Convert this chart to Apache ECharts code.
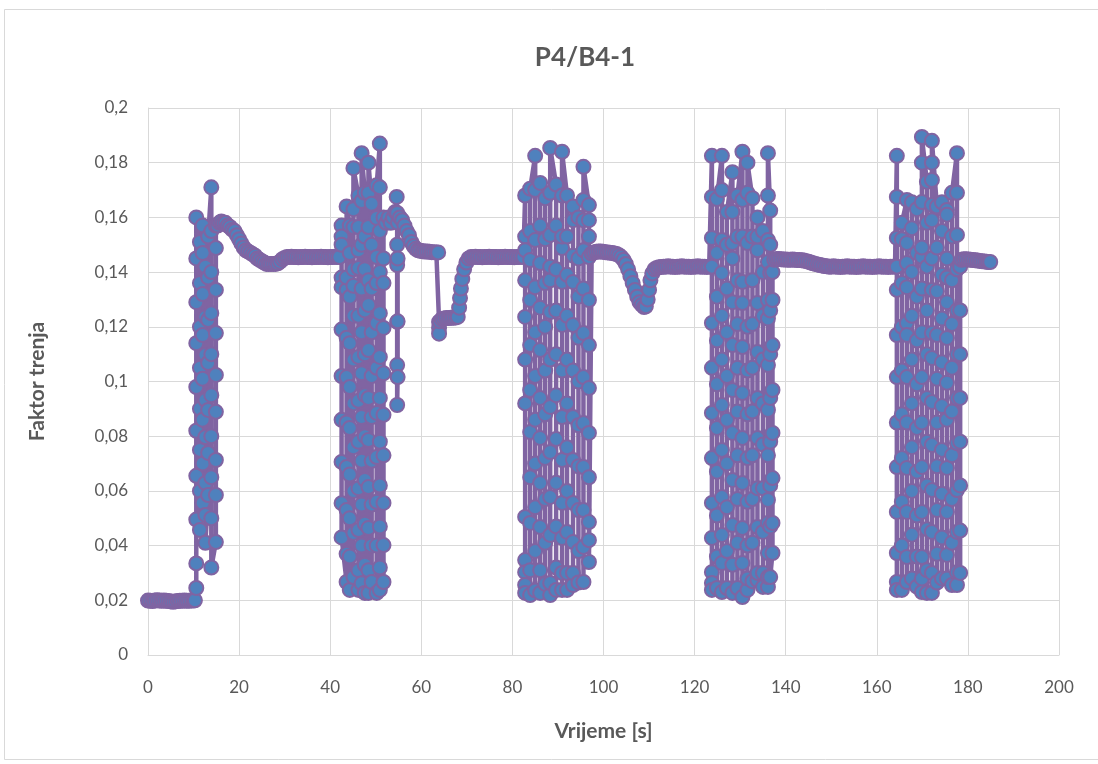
<!DOCTYPE html>
<html><head><meta charset="utf-8">
<script src="https://cdn.jsdelivr.net/npm/echarts@6/dist/echarts.min.js"></script>
<style>html,body{margin:0;padding:0;background:#fff}#c{width:1098px;height:764px}</style>
</head><body><div id="c"></div><script>
// ---- data (time [s], friction factor) ----
const flat0 = [[0,0.0199],[0.5,0.0198],[1,0.0197],[1.5,0.0199],[2,0.02],[2.5,0.0199],[3,0.0198],[3.5,0.0199],[4,0.0198],[4.5,0.0197],[5,0.0196],[5.5,0.0195],[6,0.0196],[6.5,0.0197],[7,0.0198],[7.5,0.0198],[8,0.0199],[8.5,0.0198],[9,0.0198],[9.5,0.0199],[10,0.0199],[10.3,0.02]];

const burst1Times = [10.6, 11.4, 12.0, 12.6, 13.2, 13.9, 14.9];
const burst1Sweeps = [
  [0.0245,0.0335,0.0495,0.0655,0.082,0.098,0.114,0.129,0.145,0.160],
  [0.151,0.136,0.120,0.105,0.090,0.075,0.060,0.0457],
  [0.0556,0.070,0.086,0.101,0.117,0.132,0.147,0.157],
  [0.142,0.1236,0.1097,0.0932,0.0797,0.0629,0.0512,0.041],
  [0.0585,0.0739,0.0896,0.1068,0.1225,0.138,0.153],
  [0.171,0.155,0.140,0.125,0.110,0.095,0.080,0.065,0.050,0.032],
  [0.0413,0.0585,0.0713,0.0889,0.1024,0.1177,0.1335,0.1488,0.157]
];

const flat1 = [[15.3,0.157],[15.7,0.158],[16.1,0.1585],[16.5,0.158],[17,0.158],[17.5,0.157],[18,0.1565],[18.5,0.1555],[19,0.155],[19.5,0.1535],[20,0.152],[20.5,0.1505],[21,0.149],[21.5,0.148],[22,0.1475],[22.5,0.147],[23,0.1465],[23.5,0.146],[24,0.145],[24.5,0.1445],[25,0.144],[25.5,0.1435],[26,0.143],[26.5,0.143],[27,0.143],[27.5,0.143],[28,0.143],[28.5,0.1432],[29,0.1438],[29.5,0.1447],[30,0.1452],[30.5,0.1455],[31,0.1455],[31.5,0.1456],[32,0.1455],[32.5,0.1455],[33,0.1454],[33.5,0.1455],[34,0.1455],[34.5,0.1456],[35,0.1455],[35.5,0.1455],[36,0.1454],[36.5,0.1455],[37,0.1455],[37.5,0.1455],[38,0.1456],[38.5,0.1455],[39,0.1455],[39.5,0.1454],[40,0.1455],[40.5,0.1455],[41,0.1456],[41.5,0.1455],[42,0.1455]];

const burst2Times = [42.5, 43.6, 44.3, 45.1, 46.2, 46.9, 47.6, 48.4, 49.1, 50.2, 50.9, 51.7];
const burst2Sweeps = [
  [0.157,0.153,0.150,0.138,0.1345,0.119,0.102,0.086,0.0706,0.0555,0.043],
  [0.0267,0.037,0.053,0.0687,0.085,0.1016,0.116,0.1335,0.138,0.164],
  [0.157,0.147,0.131,0.114,0.098,0.083,0.066,0.050,0.036,0.0238],
  [0.0285,0.0446,0.060,0.076,0.092,0.108,0.124,0.135,0.141,0.1565,0.163,0.178],
  [0.168,0.1565,0.148,0.1415,0.124,0.109,0.093,0.078,0.061,0.0457,0.031,0.0238],
  [0.0262,0.040,0.055,0.071,0.087,0.103,0.118,0.134,0.150,0.166,0.1835],
  [0.169,0.153,0.141,0.126,0.110,0.095,0.080,0.064,0.048,0.033,0.0227],
  [0.0227,0.031,0.0464,0.0614,0.0786,0.094,0.1115,0.128,0.137,0.1565,0.169,0.180],
  [0.165,0.150,0.134,0.118,0.102,0.087,0.071,0.055,0.040,0.0267],
  [0.0227,0.040,0.056,0.0724,0.0885,0.105,0.1214,0.136,0.1455,0.1598,0.1718],
  [0.187,0.171,0.155,0.140,0.125,0.109,0.094,0.078,0.062,0.047,0.032,0.0238],
  [0.0267,0.0402,0.0556,0.073,0.0878,0.103,0.1196,0.136,0.145,0.160]
];

const flat2 = [[52.3,0.158],[52.8,0.160],[53.3,0.158],[53.8,0.160],[54.3,0.162],[54.6,0.1675],[54.7,0.1616],[54.7,0.150],[54.7,0.1426],[54.7,0.1218],[54.7,0.106],[54.7,0.0914],[54.8,0.1016],[54.8,0.122],[54.8,0.145],[54.9,0.158],[55.3,0.160],[55.8,0.159],[56.3,0.157],[56.8,0.155],[57.3,0.1535],[57.8,0.151],[58.3,0.1495],[58.8,0.1485],[59.3,0.148],[59.8,0.1478],[60.3,0.1476],[60.8,0.1475],[61.3,0.1475],[61.8,0.1474],[62.3,0.1473],[62.8,0.1473],[63.3,0.1472],[63.7,0.1472],[63.9,0.1218],[63.9,0.1196],[63.9,0.1175],[64.1,0.122],[64.5,0.1228],[65,0.123],[65.5,0.1232],[66,0.1232],[66.5,0.1233],[67,0.1233],[67.5,0.1234],[68,0.1236],[68.3,0.127],[68.5,0.1305],[68.7,0.134],[69,0.1375],[69.4,0.141],[69.9,0.1435],[70.4,0.145],[70.9,0.1455],[71.4,0.1455],[71.9,0.1456],[72.4,0.1455],[72.9,0.1455],[73.4,0.1454],[73.9,0.1455],[74.4,0.1455],[74.9,0.1456],[75.4,0.1455],[75.9,0.1455],[76.4,0.1455],[76.9,0.1454],[77.4,0.1455],[77.9,0.1455],[78.4,0.1456],[78.9,0.1455],[79.4,0.1455],[79.9,0.1455],[80.4,0.1454],[80.9,0.1455],[81.4,0.1455],[81.9,0.1456],[82.4,0.1455]];

const burst3Times = [82.8, 83.9, 85.0, 86.1, 87.2, 88.3, 89.6, 90.9, 92.0, 93.3, 94.5, 95.6, 96.8];
const burst3Sweeps = [
  [0.168,0.153,0.148,0.137,0.1236,0.108,0.092,0.0505,0.0347,0.0303,0.0256,0.0227],
  [0.0219,0.031,0.0483,0.065,0.0815,0.0969,0.1133,0.1298,0.1444,0.155,0.1705],
  [0.1825,0.170,0.1517,0.1345,0.118,0.102,0.086,0.070,0.054,0.038,0.0236],
  [0.0227,0.031,0.0468,0.0629,0.0793,0.094,0.1115,0.127,0.1433,0.157,0.1726],
  [0.167,0.152,0.136,0.120,0.104,0.088,0.072,0.057,0.041,0.026],
  [0.0219,0.0263,0.0439,0.0578,0.0742,0.0907,0.108,0.1254,0.137,0.142,0.1536,0.169,0.1854],
  [0.172,0.157,0.141,0.126,0.110,0.095,0.079,0.063,0.047,0.032,0.0238],
  [0.0238,0.030,0.0428,0.0556,0.0713,0.087,0.104,0.1207,0.1364,0.1488,0.153,0.168,0.184],
  [0.168,0.153,0.139,0.124,0.108,0.092,0.076,0.060,0.045,0.030,0.0238],
  [0.0256,0.030,0.0413,0.0556,0.0713,0.087,0.104,0.1207,0.1364,0.146,0.159,0.164],
  [0.160,0.145,0.131,0.116,0.100,0.084,0.069,0.053,0.038,0.0265],
  [0.0267,0.0395,0.053,0.0687,0.0848,0.1016,0.1177,0.134,0.148,0.159,0.1664,0.1785],
  [0.1645,0.159,0.153,0.1455,0.1298,0.1133,0.0976,0.0812,0.065,0.0486,0.042,0.034]
];

const flat3 = [[97.4,0.1468],[97.9,0.1472],[98.4,0.1474],[98.9,0.1475],[99.4,0.1475],[99.9,0.1474],[100.4,0.1473],[100.9,0.1472],[101.4,0.1471],[101.9,0.147],[102.4,0.1468],[102.9,0.1466],[103.4,0.1462],[103.9,0.1455],[104.4,0.1445],[104.9,0.143],[105.4,0.141],[105.9,0.1385],[106.4,0.136],[106.9,0.1335],[107.4,0.131],[107.9,0.129],[108.4,0.128],[108.9,0.1272],[109.3,0.1275],[109.7,0.130],[110.0,0.1335],[110.3,0.137],[110.7,0.1395],[111.2,0.141],[111.7,0.1415],[112.2,0.1418],[112.7,0.1419],[113.2,0.142],[113.7,0.142],[114.2,0.1421],[114.7,0.142],[115.2,0.142],[115.7,0.1419],[116.2,0.142],[116.7,0.142],[117.2,0.1421],[117.7,0.142],[118.2,0.142],[118.7,0.142],[119.2,0.1419],[119.7,0.142],[120.2,0.142],[120.7,0.1421],[121.2,0.142],[121.7,0.142],[122.2,0.142],[122.7,0.1419],[123.2,0.142]];

const burst4Times = [123.8, 124.9, 126.0, 127.1, 128.3, 129.4, 130.5, 131.6, 132.7, 133.8, 135.0, 136.1, 136.6, 137.1];
const burst4Sweeps = [
  [0.1825,0.1675,0.1525,0.142,0.1214,0.105,0.0885,0.072,0.0556,0.0428,0.0303,0.0263,0.0238],
  [0.0245,0.036,0.051,0.067,0.083,0.099,0.115,0.131,0.147,0.1667],
  [0.1825,0.170,0.1517,0.1397,0.124,0.108,0.0914,0.075,0.0578,0.0439,0.0336,0.023],
  [0.0245,0.038,0.054,0.070,0.086,0.102,0.118,0.134,0.150,0.162],
  [0.1765,0.162,0.1506,0.145,0.129,0.1133,0.0969,0.0812,0.064,0.0475,0.033,0.0227],
  [0.0245,0.041,0.057,0.073,0.089,0.105,0.121,0.137,0.153,0.168],
  [0.184,0.1664,0.153,0.1364,0.1287,0.1126,0.0958,0.0793,0.0629,0.0464,0.0336,0.0212],
  [0.0238,0.028,0.040,0.056,0.072,0.088,0.104,0.120,0.1506,0.169,0.180],
  [0.167,0.153,0.137,0.121,0.105,0.089,0.073,0.057,0.041,0.027],
  [0.0274,0.030,0.0468,0.061,0.0793,0.094,0.1108,0.1287,0.148,0.153,0.160],
  [0.155,0.140,0.124,0.108,0.092,0.077,0.061,0.045,0.030,0.0249],
  [0.0249,0.0285,0.0373,0.0483,0.0567,0.073,0.0896,0.106,0.123,0.1298,0.1437,0.1517,0.168,0.1835],
  [0.1625,0.150,0.1397,0.126,0.110,0.094,0.078,0.062,0.047,0.0285],
  [0.0373,0.0483,0.0647,0.0812,0.0969,0.1133,0.1298,0.140]
];

const flat4 = [[137.5,0.1445],[138,0.1448],[138.5,0.1448],[139,0.1447],[139.5,0.1446],[140,0.1446],[140.5,0.1445],[141,0.1445],[141.5,0.1446],[142,0.1445],[142.5,0.1444],[143,0.1444],[143.5,0.1443],[144,0.1442],[144.5,0.144],[145,0.1438],[145.5,0.1435],[146,0.1432],[146.5,0.143],[147,0.1428],[147.5,0.1426],[148,0.1424],[148.5,0.1422],[149,0.1421],[149.5,0.142],[150,0.142],[150.5,0.1421],[151,0.142],[151.5,0.142],[152,0.1419],[152.5,0.142],[153,0.142],[153.5,0.1421],[154,0.142],[154.5,0.142],[155,0.142],[155.5,0.1419],[156,0.142],[156.5,0.142],[157,0.1421],[157.5,0.142],[158,0.142],[158.5,0.142],[159,0.1419],[159.5,0.142],[160,0.142],[160.5,0.1421],[161,0.142],[161.5,0.142],[162,0.142],[162.5,0.1419],[163,0.142],[163.5,0.142],[164,0.142]];

const burst5Times = [164.4, 165.5, 166.6, 167.7, 168.8, 169.9, 171.0, 172.1, 173.2, 174.3, 175.4, 176.5, 177.6, 178.3];
const burst5Sweeps = [
  [0.1825,0.1675,0.1525,0.142,0.1335,0.117,0.1016,0.085,0.0687,0.0523,0.0373,0.0267,0.0238],
  [0.0238,0.040,0.056,0.072,0.088,0.104,0.120,0.136,0.152,0.158],
  [0.1664,0.1506,0.1433,0.1345,0.1214,0.117,0.1016,0.085,0.0684,0.0523,0.0358,0.0267],
  [0.028,0.044,0.060,0.076,0.092,0.108,0.124,0.140,0.156,0.1655],
  [0.163,0.147,0.131,0.115,0.099,0.083,0.067,0.051,0.036,0.025],
  [0.023,0.028,0.0358,0.0523,0.0687,0.085,0.1016,0.118,0.134,0.1455,0.149,0.1656,0.180,0.1894],
  [0.173,0.158,0.142,0.126,0.110,0.094,0.078,0.062,0.046,0.031,0.0227],
  [0.0227,0.030,0.045,0.0603,0.0768,0.0925,0.1086,0.1177,0.1335,0.145,0.159,0.1645,0.1737,0.180,0.188],
  [0.164,0.149,0.133,0.117,0.101,0.085,0.069,0.053,0.037,0.0265],
  [0.028,0.043,0.059,0.075,0.091,0.107,0.123,0.139,0.155,0.1655],
  [0.1627,0.161,0.145,0.138,0.129,0.1159,0.0995,0.086,0.0684,0.0523,0.0366,0.028],
  [0.0256,0.041,0.057,0.073,0.089,0.105,0.121,0.137,0.153,0.169],
  [0.1835,0.169,0.1536,0.141,0.126,0.110,0.094,0.0775,0.0603,0.045,0.0303,0.0256],
  [0.030,0.0455,0.062,0.078,0.094,0.110,0.126,0.142]
];

const flat5 = [[178.6,0.1445],[179.1,0.1447],[179.6,0.1447],[180.1,0.1446],[180.6,0.1445],[181.1,0.1444],[181.6,0.1443],[182.1,0.1442],[182.6,0.1441],[183.1,0.144],[183.6,0.1439],[184.1,0.1438],[184.5,0.1437],[184.9,0.1437]];

const titleText = 'P4/B4-1';
const xName = 'Vrijeme [s]';
const yName = 'Faktor trenja';

// ---- build ----
function sweeps(times, rows) {
  const out = [];
  times.forEach((t, i) => rows[i].forEach(v => out.push([t, v])));
  return out;
}
const seriesData = [].concat(
  flat0, sweeps(burst1Times, burst1Sweeps), flat1,
  sweeps(burst2Times, burst2Sweeps), flat2,
  sweeps(burst3Times, burst3Sweeps), flat3,
  sweeps(burst4Times, burst4Sweeps), flat4,
  sweeps(burst5Times, burst5Sweeps), flat5
);

const FONT = 'Lato, "Open Sans", sans-serif';
const chart = echarts.init(document.getElementById('c'), null, {renderer: 'canvas'});
chart.setOption({
  animation: false,
  backgroundColor: '#ffffff',
  textStyle: {fontFamily: FONT},
  graphic: [{
    type: 'rect', silent: true, z: -10,
    shape: {x: 4.5, y: 9.5, width: 1100, height: 750},
    style: {fill: 'none', stroke: '#d9d9d9', lineWidth: 1}
  }],
  title: {
    text: titleText, left: 580, top: 40, textAlign: 'center',
    textStyle: {fontFamily: FONT, fontSize: 26, fontWeight: 'bold', color: '#595959'}
  },
  grid: {left: 148, right: 39, top: 108, bottom: 109, containLabel: false},
  xAxis: {
    type: 'value', min: 0, max: 200, interval: 20,
    name: xName, nameLocation: 'middle', nameGap: 66,
    nameTextStyle: {fontFamily: FONT, fontSize: 21, fontWeight: 'bold', color: '#595959'},
    axisLine: {show: true, lineStyle: {color: '#d9d9d9', width: 1}},
    axisTick: {show: false},
    axisLabel: {color: '#595959', fontSize: 17, margin: 24, fontFamily: FONT},
    splitLine: {show: true, lineStyle: {color: '#d9d9d9', width: 1}}
  },
  yAxis: {
    type: 'value', min: 0, max: 0.2, interval: 0.02,
    name: yName, nameLocation: 'middle', nameGap: 100, nameRotate: 90,
    nameTextStyle: {fontFamily: FONT, fontSize: 21, fontWeight: 'bold', color: '#595959'},
    axisLine: {show: true, lineStyle: {color: '#d9d9d9', width: 1}},
    axisTick: {show: false},
    axisLabel: {
      color: '#595959', fontSize: 17, margin: 20, fontFamily: FONT,
      formatter: v => String(Number(v.toFixed(3))).replace('.', ',')
    },
    splitLine: {show: true, lineStyle: {color: '#d9d9d9', width: 1}}
  },
  series: [{
    type: 'line',
    data: seriesData,
    symbol: 'circle', symbolSize: 14,
    showSymbol: true, showAllSymbol: true,
    clip: false,
    lineStyle: {color: '#8064A2', width: 4.5},
    itemStyle: {color: '#4F81BD', borderColor: '#8064A2', borderWidth: 2},
    emphasis: {disabled: true},
    silent: true
  }]
});
</script></body></html>
